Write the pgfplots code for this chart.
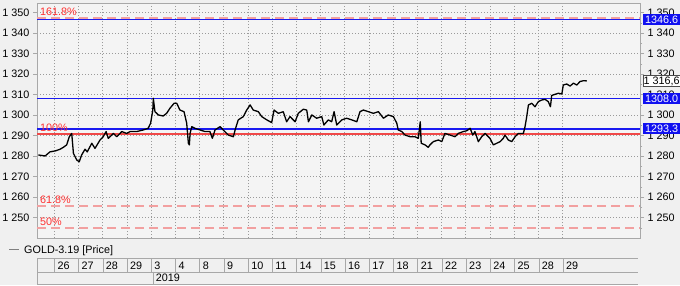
\documentclass[border=0pt]{standalone}
\usepackage{fontspec}
\setmainfont{Liberation Sans}
\usepackage{pgfplots}
\pgfplotsset{compat=1.18}
\definecolor{pagebg}{HTML}{F0F0F0}
\definecolor{plotbg}{HTML}{F4F4F4}
\definecolor{gridc}{HTML}{9A9A9A}
\definecolor{framec}{HTML}{A8A8A8}
\definecolor{lvlblue}{HTML}{1A1AF0}
\definecolor{boxblue}{HTML}{1010F0}
\definecolor{fibred}{HTML}{F04848}
\definecolor{fibdash}{HTML}{F2A0A0}
\definecolor{fibtxt}{HTML}{FF3030}
\newcommand\f{\fontsize{10.8}{12}\selectfont}
\pgfplotsset{
 common/.style={at={(37pt,47pt)}, anchor=south west, scale only axis,
  width=603pt, height=235pt, xmin=0.285, xmax=25.2, ymin=1240, ymax=1354.6,
  ytick={1250,1260,...,1350},
  yticklabels={1 250,1 260,1 270,1 280,1 290,1 300,1 310,1 320,1 330,1 340,1 350},
  yticklabel style={font=\f, text=black},
  tick style={framec}, tick align=outside, major tick length=4pt, minor tick length=2pt,
  axis line style={framec}}
}
\begin{document}
\begin{tikzpicture}[x=1pt,y=1pt]
\fill[pagebg] (0,0) rectangle (680,285);
\useasboundingbox (0,0) rectangle (680,285);
\begin{axis}[common,
 axis background/.style={fill=plotbg},
 xtick={1,...,22}, xticklabels={}, xtick style={draw=none},
 ytick pos=left,
 grid=major, major grid style={gridc, dash pattern=on 1pt off 2pt, line width=0.6pt}]
% Fibonacci levels
\addplot[fibdash, line width=1.6pt, dash pattern=on 9pt off 5pt] coordinates {(0.285,1347.4) (25.2,1347.4)};
\addplot[fibdash, line width=1.6pt, dash pattern=on 9pt off 5pt] coordinates {(0.285,1255.7) (25.2,1255.7)};
\addplot[fibdash, line width=1.6pt, dash pattern=on 9pt off 5pt] coordinates {(0.285,1244.9) (25.2,1244.9)};
\addplot[fibred, line width=1.8pt] coordinates {(0.285,1290.7) (25.2,1290.7)};
% Blue levels
\addplot[lvlblue, line width=1.6pt] coordinates {(0.285,1346.6) (25.2,1346.6)};
\addplot[lvlblue, line width=1.6pt] coordinates {(0.285,1308.0) (25.2,1308.0)};
\addplot[lvlblue, line width=1.6pt] coordinates {(0.285,1293.3) (25.2,1293.3)};
% Price
\addplot[black, line width=1.3pt, line join=round] coordinates {
(0.34,1280.5) (0.62,1280) (0.82,1282) (1.05,1282.5) (1.24,1283.3) (1.37,1284.2) (1.51,1285.4) (1.62,1289.4) (1.72,1291) (1.79,1281.3) (1.93,1278) (2.03,1277.2) (2.13,1280.5) (2.27,1283.3) (2.36,1282) (2.55,1286.2) (2.68,1283.7) (2.89,1287.8) (3.02,1289.4) (3.14,1291.9) (3.23,1288.6) (3.44,1291) (3.58,1289.4) (3.79,1291.9) (3.99,1291) (4.13,1291.9) (4.40,1291.9) (4.68,1292.7) (4.88,1293.5) (4.98,1296) (5.07,1302.4) (5.09,1308.1) (5.16,1301.6) (5.30,1300) (5.50,1299.5) (5.64,1300.8) (5.78,1303.3) (5.95,1305.7) (6.06,1305.7) (6.19,1302.4) (6.36,1301.6) (6.47,1296) (6.54,1286.2) (6.58,1285.4) (6.61,1291) (6.68,1294.3) (6.81,1293.5) (7.02,1292.7) (7.23,1291.9) (7.43,1291.9) (7.53,1288.6) (7.64,1292.7) (7.85,1294.3) (7.98,1292.7) (8.19,1290.2) (8.40,1289.4) (8.47,1292.7) (8.60,1297.6) (8.81,1299.2) (8.95,1302.4) (9.09,1304.9) (9.22,1302.4) (9.43,1301.6) (9.57,1299.2) (9.78,1297.6) (9.98,1296.3) (10.08,1302.4) (10.26,1300.8) (10.46,1301.6) (10.60,1296.7) (10.74,1299.2) (10.95,1296.7) (11.08,1300.8) (11.29,1302.8) (11.43,1302.4) (11.50,1296.7) (11.64,1300) (11.84,1298.4) (12.05,1299.2) (12.14,1295.1) (12.32,1297.6) (12.46,1296.7) (12.56,1301.6) (12.67,1295.1) (12.88,1297.6) (13.08,1298.4) (13.29,1297.6) (13.50,1296.7) (13.63,1301.6) (13.77,1302.4) (13.98,1301.6) (14.18,1300.8) (14.39,1301.6) (14.60,1298.4) (14.80,1300) (15.01,1299.2) (15.15,1296) (15.21,1292.7) (15.36,1291.9) (15.49,1290.2) (15.70,1289.4) (15.90,1289.4) (16.04,1288.6) (16.12,1296.7) (16.16,1286.2) (16.32,1285.4) (16.45,1284.2) (16.52,1285.4) (16.66,1287) (16.87,1287.8) (17.01,1287) (17.14,1291) (17.35,1290.2) (17.56,1289.4) (17.69,1291) (17.90,1291.9) (18.04,1292.3) (18.18,1293.5) (18.29,1290.2) (18.38,1291.9) (18.52,1287) (18.66,1289.4) (18.80,1291) (19.00,1288.6) (19.14,1285.4) (19.28,1286.2) (19.42,1287) (19.55,1288.6) (19.62,1290.2) (19.76,1287.8) (19.90,1287) (20.04,1289.4) (20.17,1291) (20.38,1291) (20.45,1294.3) (20.52,1299.2) (20.59,1304.9) (20.73,1305.7) (20.86,1304) (21.00,1306.5) (21.14,1307.3) (21.28,1307.6) (21.41,1306.5) (21.50,1304) (21.55,1309.5) (21.62,1309.8) (21.83,1310.6) (21.97,1310.2) (22.03,1314.6) (22.17,1315.1) (22.31,1314.1) (22.45,1315.5) (22.59,1314.6) (22.72,1316.3) (22.86,1316.7) (23.00,1316.6)};
% Fib labels
\node[anchor=base west, inner sep=0pt, font=\f, text=fibtxt, xshift=3pt, yshift=2.2pt] at (axis cs:0.285,1347.4) {161.8\%};
\node[anchor=base west, inner sep=0pt, font=\f, text=fibtxt, xshift=3pt, yshift=2.2pt] at (axis cs:0.285,1290.7) {100\%};
\node[anchor=base west, inner sep=0pt, font=\f, text=fibtxt, xshift=3pt, yshift=2.2pt] at (axis cs:0.285,1255.7) {61.8\%};
\node[anchor=base west, inner sep=0pt, font=\f, text=fibtxt, xshift=3pt, yshift=2.2pt] at (axis cs:0.285,1244.9) {50\%};
\coordinate (b1) at (axis cs:25.2,1346.6);
\coordinate (b2) at (axis cs:25.2,1308.0);
\coordinate (b3) at (axis cs:25.2,1293.3);
\coordinate (b4) at (axis cs:25.2,1316.6);
\end{axis}
\begin{axis}[common, hide x axis, axis y line*=right,
 minor ytick={1245,1255,...,1345}]
\addplot[draw=none] coordinates {(1,1300)};
\end{axis}
% right value boxes
\foreach \c/\t in {b1/1346.6, b2/1308.0, b3/1293.3}{
 \node[anchor=west, fill=boxblue, text=white, font=\f, inner sep=0pt, minimum height=11.5pt, minimum width=37pt, xshift=3pt] at (\c) {\t};
}
\node[anchor=west, fill=white, draw=black!70, text=black, font=\f, inner sep=0pt, minimum height=11.5pt, minimum width=37pt, xshift=3pt] at (b4) {1 316,6};
% legend
\draw[gray, line width=1.2pt] (9,35.5) -- (19,35.5);
\node[anchor=base west, inner sep=0pt, font=\f] at (24,31.7) {GOLD-3.19 [Price]};
% date table
\draw[framec] (37,26.7) -- (638.3,26.7) (37,13.3) -- (638.3,13.3) (37,1) -- (638.3,1) (37,26.7) -- (37,1) (152.7,13.3) -- (152.7,1);
\foreach \k/\d in {1/26,2/27,3/28,4/29,5/3,6/4,7/8,8/9,9/10,10/11,11/14,12/15,13/16,14/17,15/18,16/21,17/22,18/23,19/24,20/25,21/28,22/29}{
 \pgfmathsetmacro\xx{54.3+(\k-1)*24.22}
 \draw[framec] (\xx,26.7) -- (\xx,13.3);
 \node[anchor=base west, inner sep=0pt, font=\f] at (\xx+3,16) {\d};
}
\node[anchor=base west, inner sep=0pt, font=\f] at (155.7,3.3) {2019};
\end{tikzpicture}
\end{document}
